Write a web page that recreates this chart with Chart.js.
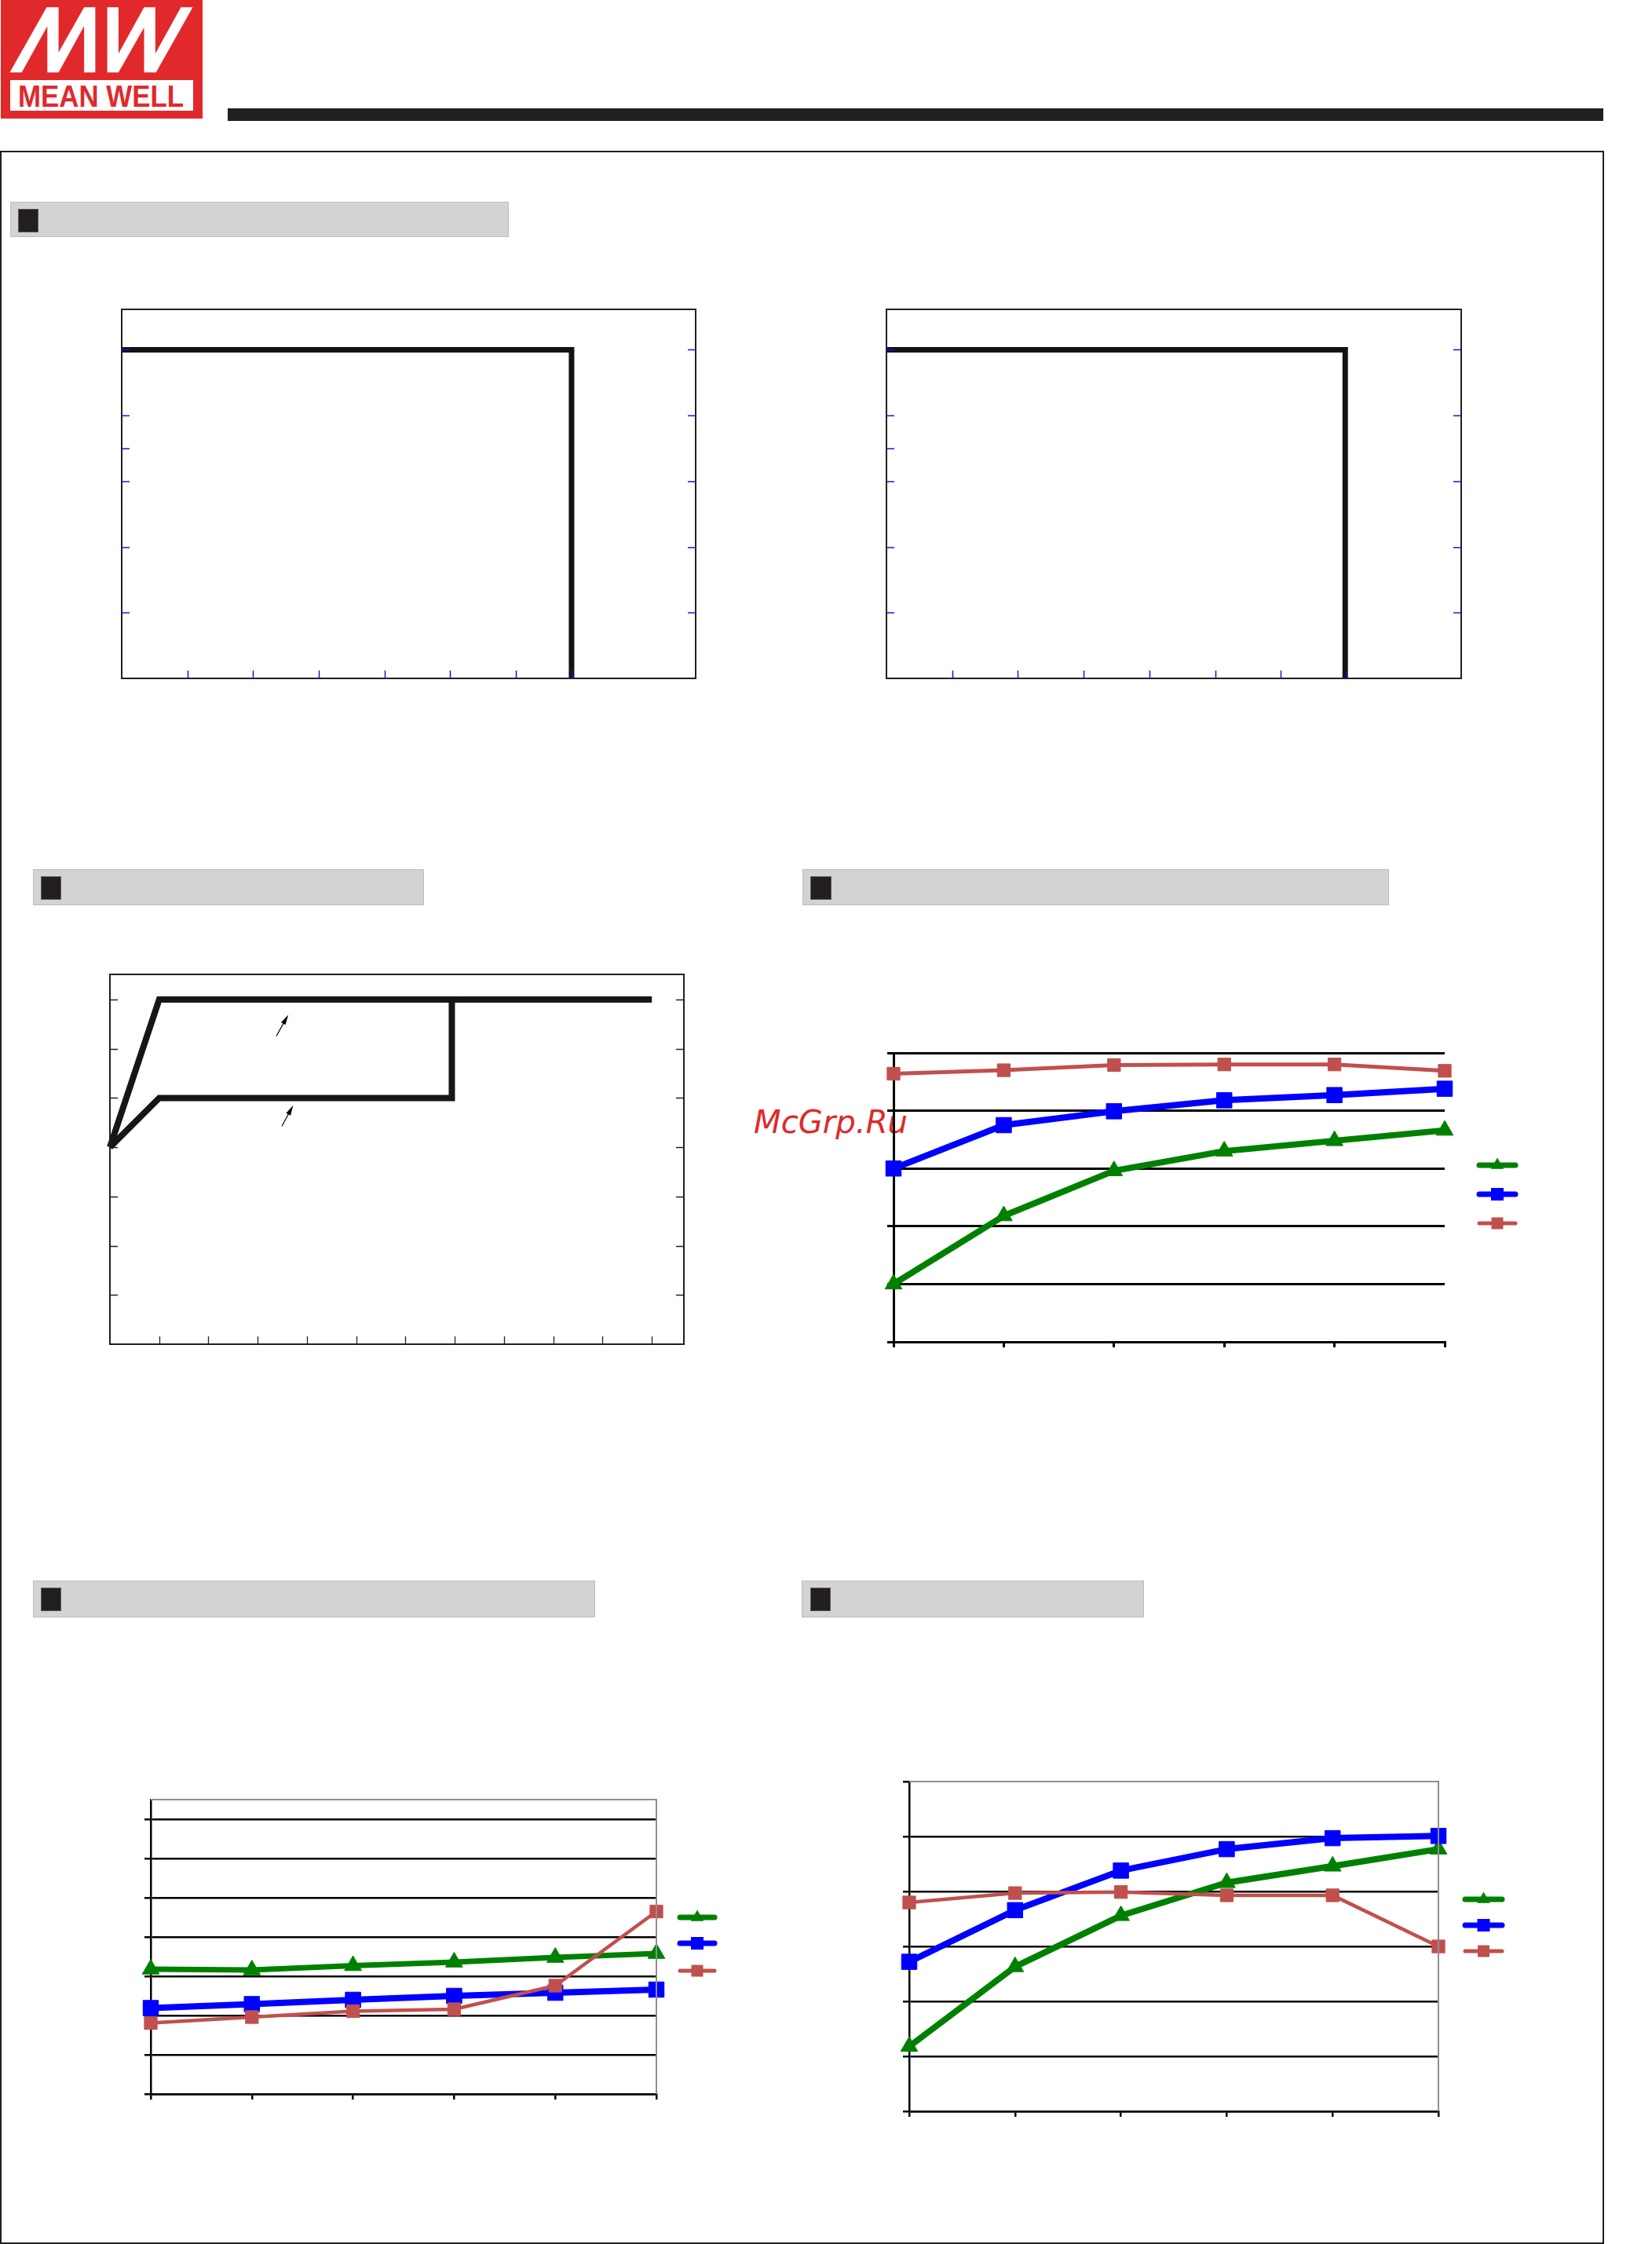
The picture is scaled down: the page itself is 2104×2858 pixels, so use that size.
<!DOCTYPE html>
<html>
<head>
<meta charset="utf-8">
<script src="https://cdn.jsdelivr.net/npm/chart.js@4.4.1/dist/chart.umd.min.js"></script>
<style>
html,body{margin:0;padding:0;background:#fff;}
body{width:2104px;height:2858px;position:relative;overflow:hidden;}
.abs{position:absolute;}
.frame{position:absolute;left:0;top:192px;width:2043px;height:2666px;border:2px solid #231f20;box-sizing:border-box;}
.hdr{position:absolute;background:#d3d3d3;border:1.5px solid #bdbdbd;box-sizing:border-box;}
.sq{position:absolute;background:#231f20;border:1px solid #5a5a5a;box-sizing:border-box;}
canvas{position:absolute;}
</style>
</head>
<body>
<div class="frame"></div>
<!-- logo -->
<svg class="abs" style="left:0;top:0" width="300" height="160">
  <rect x="1" y="0" width="257" height="151" fill="#e1292b"/>
  <polygon fill="#fff" points="12.5,92.3 27.7,92.3 60.3,33.3 60.3,92.3 74.6,92.3 107.1,33.3 107.1,92.3 121.4,92.3 121.4,9.3 107.1,9.3 74.6,66.7 74.6,9.3 59.4,9.3"/>
  <polygon fill="#fff" points="245.5,9.3 230.4,9.3 197.8,68.3 197.8,9.3 183.5,9.3 150.9,68.3 150.9,9.3 136.6,9.3 136.6,92.3 150.9,92.3 183.5,35 183.5,92.3 198.7,92.3"/>
  <rect x="13" y="102" width="233" height="39" fill="#fff"/>
  <text x="23" y="136" font-family="Liberation Sans, Arial, sans-serif" font-weight="bold" font-size="39" fill="#e1292b" textLength="211" lengthAdjust="spacingAndGlyphs">MEAN WELL</text>
</svg>
<div class="abs" style="left:290px;top:138px;width:1752px;height:16px;background:#231f20"></div>

<!-- section headers -->
<div class="hdr" style="left:13px;top:257px;width:635px;height:45px"></div>
<div class="sq" style="left:23px;top:266px;width:26px;height:30px"></div>
<div class="hdr" style="left:42px;top:1107px;width:498px;height:46px"></div>
<div class="sq" style="left:52px;top:1116px;width:26px;height:30px"></div>
<div class="hdr" style="left:1022px;top:1107px;width:747px;height:46px"></div>
<div class="sq" style="left:1032px;top:1116px;width:27px;height:30px"></div>
<div class="hdr" style="left:42px;top:2013px;width:716px;height:47px"></div>
<div class="sq" style="left:52px;top:2022px;width:26px;height:30px"></div>
<div class="hdr" style="left:1021px;top:2013px;width:436px;height:47px"></div>
<div class="sq" style="left:1032px;top:2022px;width:26px;height:30px"></div>

<!-- watermark -->
<svg class="abs" style="left:900px;top:1380px" width="320" height="100">
  <text x="60" y="63" font-family="DejaVu Sans, sans-serif" font-style="oblique" font-size="40" fill="#dd2a2a" textLength="196" lengthAdjust="spacingAndGlyphs">McGrp.Ru</text>
</svg>

<script>
// ---------------- DATA ----------------
// Chart 1 & 2: derating curves (abstract axis units)
const derate1X = [0, 6.85, 6.85];
const derate1Y = [100, 100, 0];
const derate1XTicks = [1, 2, 3, 4, 5, 6, 6.85];
const derate2X = [0, 6.98, 6.98];
const derate2Y = [100, 100, 0];
const derate2XTicks = [1, 2, 3, 4, 5, 6, 7];
const derateYTicksLeft = [20, 40, 60, 70, 80, 100];
const derateYTicksRight = [20, 40, 60, 80, 100];

// Chart 3: static characteristic
const staticUpperX = [0, 1, 11];
const staticUpperY = [4, 7, 7];
const staticLowerX = [0, 1, 6.94, 6.94];
const staticLowerY = [4, 5, 5, 7];
const staticXTicks = [1, 2, 3, 4, 5, 6, 7, 8, 9, 10, 11];
const staticYTicks = [1, 2, 3, 4, 5, 6, 7];
const arrowFromX = [3.38, 3.49];
const arrowFromY = [6.26, 4.43];
const arrowToX = [3.62, 3.72];
const arrowToY = [6.69, 4.85];

// Charts 4-6: three input-voltage series vs load
const loadCategories = ['10%', '20%', '40%', '60%', '80%', '100%'];
const seriesLabels = ['115VAC', '230VAC', '277VAC'];

const eff4Green = [75.0, 80.9, 84.8, 86.5, 87.4, 88.3];
const eff4Blue  = [85.0, 88.75, 89.95, 90.9, 91.35, 91.9];
const eff4Red   = [93.2, 93.5, 93.95, 94.0, 94.0, 93.45];
const eff4YTicks = [70, 75, 80, 85, 90, 95];

const c5Green = [3.18, 3.16, 3.27, 3.36, 3.48, 3.58];
const c5Blue  = [2.19, 2.29, 2.40, 2.50, 2.58, 2.66];
const c5Red   = [1.81, 1.96, 2.11, 2.16, 2.76, 4.65];
const c5YTicks = [0, 1, 2, 3, 4, 5, 6, 7];

const c6Green = [1.18, 2.63, 3.56, 4.16, 4.46, 4.77];
const c6Blue  = [2.72, 3.66, 4.38, 4.77, 4.97, 5.01];
const c6Red   = [3.80, 3.97, 3.99, 3.93, 3.93, 3.00];
const c6YTicks = [0, 1, 2, 3, 4, 5, 6];

// ---------------- HELPERS ----------------
Chart.defaults.animation = false;
Chart.defaults.responsive = false;
Chart.defaults.devicePixelRatio = 1;
Chart.defaults.plugins.legend.display = false;
Chart.defaults.plugins.tooltip.enabled = false;

const GREEN = '#008000', BLUE = '#0000ff', RED = '#c0504d';

function place(box, pad) {
  const c = document.createElement('canvas');
  const w = box.R - box.L + pad.l + pad.r, h = box.B - box.T + pad.t + pad.b;
  c.width = w; c.height = h;
  c.style.left = (box.L - pad.l) + 'px';
  c.style.top = (box.T - pad.t) + 'px';
  c.style.width = w + 'px'; c.style.height = h + 'px';
  document.body.appendChild(c);
  return c;
}
const pts = (xs, ys) => xs.map((x, i) => ({x: x, y: ys[i]}));

function frameTicks(o) {
  return {
    id: 'frameTicks',
    afterDatasetsDraw(chart) {
      const {ctx, chartArea: a, scales} = chart;
      ctx.save();
      ctx.strokeStyle = o.color; ctx.lineWidth = o.width;
      ctx.beginPath();
      (o.left || []).forEach(v => { const y = Math.round(scales.y.getPixelForValue(v)) + 0.5; ctx.moveTo(a.left, y); ctx.lineTo(a.left + o.len, y); });
      (o.right || []).forEach(v => { const y = Math.round(scales.y.getPixelForValue(v)) + 0.5; ctx.moveTo(a.right, y); ctx.lineTo(a.right - o.len, y); });
      (o.bottom || []).forEach(v => { const x = Math.round(scales.x.getPixelForValue(v)) + 0.5; ctx.moveTo(x, a.bottom); ctx.lineTo(x, a.bottom - o.len); });
      ctx.stroke();
      if (o.arrows) {
        ctx.strokeStyle = '#000'; ctx.fillStyle = '#000'; ctx.lineWidth = 1.2;
        o.arrows.fromX.forEach((fx, i) => {
          const x0 = scales.x.getPixelForValue(fx), y0 = scales.y.getPixelForValue(o.arrows.fromY[i]);
          const x1 = scales.x.getPixelForValue(o.arrows.toX[i]), y1 = scales.y.getPixelForValue(o.arrows.toY[i]);
          const ang = Math.atan2(y1 - y0, x1 - x0), hl = 13, hw = 3.2;
          ctx.beginPath(); ctx.moveTo(x0, y0);
          ctx.lineTo(x1 - Math.cos(ang) * hl * 0.8, y1 - Math.sin(ang) * hl * 0.8); ctx.stroke();
          ctx.beginPath(); ctx.moveTo(x1, y1);
          ctx.lineTo(x1 - hl * Math.cos(ang) + hw * Math.sin(ang), y1 - hl * Math.sin(ang) - hw * Math.cos(ang));
          ctx.lineTo(x1 - hl * Math.cos(ang) - hw * Math.sin(ang), y1 - hl * Math.sin(ang) + hw * Math.cos(ang));
          ctx.closePath(); ctx.fill();
        });
      }
      ctx.strokeStyle = o.frame; ctx.lineWidth = o.frameWidth;
      ctx.strokeRect(a.left, a.top, a.right - a.left, a.bottom - a.top);
      ctx.restore();
    }
  };
}

function derateChart(box, xs, ys, xMax, yMax, xTicks) {
  const pad = {l: 20, r: 20, t: 20, b: 20};
  const c = place(box, pad);
  new Chart(c, {
    type: 'line',
    data: {datasets: [{label: 'Load', data: pts(xs, ys), borderColor: '#141213', borderWidth: 7,
      pointRadius: 0, tension: 0, fill: false, clip: false, borderJoinStyle: 'miter'}]},
    options: {
      layout: {padding: {left: pad.l, right: pad.r, top: pad.t, bottom: pad.b}},
      scales: {
        x: {type: 'linear', min: 0, max: xMax, display: false},
        y: {type: 'linear', min: 0, max: yMax, display: false}
      }
    },
    plugins: [frameTicks({left: derateYTicksLeft, right: derateYTicksRight, bottom: xTicks,
      color: '#1010ff', width: 1.5, len: 10, frame: '#231f20', frameWidth: 2})]
  });
}

derateChart({L: 155, T: 394, R: 886, B: 864}, derate1X, derate1Y, 8.74, 112.3, derate1XTicks);
derateChart({L: 1129, T: 394, R: 1861, B: 864}, derate2X, derate2Y, 8.745, 112.3, derate2XTicks);

// Chart 3
(function () {
  const box = {L: 140, T: 1241, R: 871, B: 1712};
  const pad = {l: 20, r: 20, t: 20, b: 20};
  const c = place(box, pad);
  const ds = (label, xs, ys) => ({label: label, data: pts(xs, ys), borderColor: '#171516', borderWidth: 8,
    pointRadius: 0, tension: 0, fill: false, clip: false, borderJoinStyle: 'miter'});
  new Chart(c, {
    type: 'line',
    data: {datasets: [ds('Upper', staticUpperX, staticUpperY), ds('Lower', staticLowerX, staticLowerY)]},
    options: {
      layout: {padding: {left: pad.l, right: pad.r, top: pad.t, bottom: pad.b}},
      scales: {
        x: {type: 'linear', min: 0, max: 11.65, display: false},
        y: {type: 'linear', min: 0, max: 7.51, display: false}
      }
    },
    plugins: [frameTicks({left: staticYTicks, right: staticYTicks, bottom: staticXTicks,
      color: '#231f20', width: 1.3, len: 10, frame: '#231f20', frameWidth: 2,
      arrows: {fromX: arrowFromX, fromY: arrowFromY, toX: arrowToX, toY: arrowToY}})]
  });
})();

// Charts 4-6
function perfPlugin(o) {
  return {
    id: 'perfExtras',
    afterDraw(chart) {
      const {ctx, chartArea: a} = chart;
      ctx.save();
      if (o.gray) {
        ctx.strokeStyle = '#8f8f8f'; ctx.lineWidth = 2;
        ctx.beginPath();
        ctx.moveTo(a.left, a.top); ctx.lineTo(a.right, a.top); ctx.lineTo(a.right, a.bottom);
        ctx.stroke();
      }
      chart.data.datasets.forEach((d, i) => {
        const y = a.top + o.legY[i];
        ctx.strokeStyle = d.borderColor; ctx.fillStyle = d.borderColor;
        ctx.lineWidth = o.legW[i]; ctx.lineCap = 'round';
        ctx.beginPath(); ctx.moveTo(a.right + o.legX0, y); ctx.lineTo(a.right + o.legX1, y); ctx.stroke();
        const cx = a.right + (o.legX0 + o.legX1) / 2;
        ctx.beginPath();
        if (d.pointStyle === 'triangle') {
          const r = 9.5;
          ctx.moveTo(cx, y - r); ctx.lineTo(cx + r * 0.866, y + r * 0.5); ctx.lineTo(cx - r * 0.866, y + r * 0.5); ctx.closePath();
        } else {
          const s = d === chart.data.datasets[2] ? 7.5 : 8;
          ctx.rect(cx - s, y - s, 2 * s, 2 * s);
        }
        ctx.fill();
      });
      ctx.restore();
    }
  };
}

function perfChart(box, values, widths, yMin, yMax, yTicks, gridW, hideTop, extra) {
  const pad = {l: 25, r: 130, t: 25, b: 25};
  const c = place(box, pad);
  const cols = [GREEN, BLUE, RED];
  const styles = ['triangle', 'rect', 'rect'];
  const radii = [12.5, 13.8, 11.5];
  const datasets = values.map((v, i) => ({
    label: seriesLabels[i], data: v, borderColor: cols[i], backgroundColor: cols[i],
    pointBackgroundColor: cols[i], pointBorderColor: cols[i], pointBorderWidth: 1,
    borderWidth: widths[i], pointStyle: styles[i], pointRadius: radii[i], tension: 0,
    fill: false, clip: false, order: 2 - i, borderJoinStyle: 'round'
  }));
  new Chart(c, {
    type: 'line',
    data: {labels: loadCategories, datasets: datasets},
    options: {
      layout: {padding: {left: pad.l, right: pad.r, top: pad.t, bottom: pad.b}},
      scales: {
        x: {type: 'category', offset: false,
          ticks: {display: false},
          grid: {display: true, drawOnChartArea: false, drawTicks: true, tickLength: 7, color: '#000', tickColor: '#000', lineWidth: gridW},
          border: {display: true, color: '#000', width: gridW},
          afterFit: s => { s.height = 0; }},
        y: {type: 'linear', min: yMin, max: yMax,
          ticks: {display: false},
          afterBuildTicks: s => { s.ticks = yTicks.map(v => ({value: v})); },
          grid: {display: true, drawTicks: true, tickLength: 8, tickColor: '#000', lineWidth: gridW,
            color: ctx => (hideTop && ctx.tick && ctx.tick.value === yMax) ? 'rgba(0,0,0,0)' : '#000'},
          border: {display: true, color: '#000', width: gridW},
          afterFit: s => { s.width = 0; }}
      }
    },
    plugins: [perfPlugin(extra)]
  });
}

perfChart({L: 1138, T: 1341, R: 1840, B: 1709}, [eff4Green, eff4Blue, eff4Red], [8, 8, 5],
  70, 95, eff4YTicks, 3, false,
  {gray: false, legX0: 44, legX1: 90, legY: [143, 180, 217], legW: [7, 7, 5]});
perfChart({L: 192, T: 2292, R: 836, B: 2667}, [c5Green, c5Blue, c5Red], [7, 8, 4.5],
  0, 7.5, c5YTicks, 2.5, false,
  {gray: true, legX0: 30, legX1: 74, legY: [150, 183, 218], legW: [7, 7, 5]});
perfChart({L: 1158, T: 2269, R: 1832, B: 2689}, [c6Green, c6Blue, c6Red], [8, 8, 4.5],
  0, 6, c6YTicks, 2.5, true,
  {gray: true, legX0: 34, legX1: 81, legY: [150, 183, 216], legW: [7, 7, 5]});
</script>
</body>
</html>
